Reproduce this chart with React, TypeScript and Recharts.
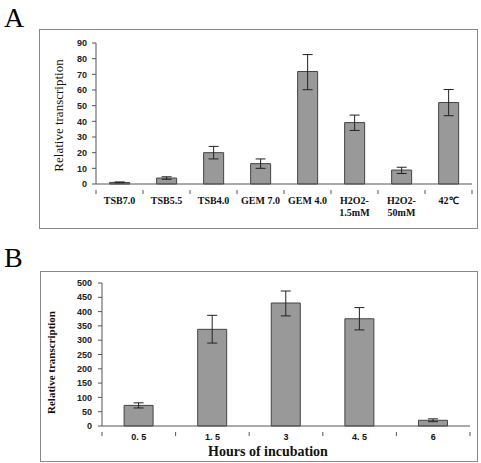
import { BarChart, Bar, XAxis, YAxis, ErrorBar } from "recharts";

// Panel A
const conditions = ["TSB7.0", "TSB5.5", "TSB4.0", "GEM 7.0", "GEM 4.0", "H2O2-\n1.5mM", "H2O2-\n50mM", "42℃"];
const conditionValues = [1, 3.8, 20, 13, 71.8, 39.2, 8.9, 52];
const conditionErrLow = [0.3, 0.8, 4, 3, 11.6, 5, 2.2, 8.4];
const conditionErrHigh = [0.3, 0.8, 4, 3, 10.8, 4.8, 1.8, 8.3];
const ticksA = [0, 10, 20, 30, 40, 50, 60, 70, 80, 90];

// Panel B
const hours = ["0. 5", "1. 5", "3", "4. 5", "6"];
const hourValues = [72, 338, 430, 375, 20];
const hourErrLow = [9, 48, 45, 39, 5];
const hourErrHigh = [9, 49, 42, 39, 5];
const ticksB = [0, 50, 100, 150, 200, 250, 300, 350, 400, 450, 500];

const dataA = conditions.map((c, i) => ({
  name: c,
  value: conditionValues[i],
  err: [conditionErrLow[i], conditionErrHigh[i]],
}));
const dataB = hours.map((h, i) => ({
  name: h,
  value: hourValues[i],
  err: [hourErrLow[i], hourErrHigh[i]],
}));

const AXIS = "#555";
const SANS = "'Liberation Sans', Arial, sans-serif";
const SERIF = "'Liberation Serif', 'Times New Roman', serif";

function boundaryTick(band: number, dy: number, font: string, size: number) {
  return (props: any) => {
    const { x, y, payload, index } = props;
    const parts = String(payload.value).split("\n");
    return (
      <g>
        {index === 0 && <line x1={x - band / 2} x2={x - band / 2} y1={y - 2} y2={y + 2} stroke={AXIS} />}
        <line x1={x + band / 2} x2={x + band / 2} y1={y - 2} y2={y + 2} stroke={AXIS} />
        <text x={x} y={y + dy} textAnchor="middle" fontFamily={font} fontWeight="bold" fontSize={size} fill="#111">
          {parts.map((p, i) => (
            <tspan key={i} x={x} dy={i === 0 ? 0 : 12}>{p}</tspan>
          ))}
        </text>
      </g>
    );
  };
}

export default function App() {
  return (
    <div style={{ position: "absolute", left: 0, top: 0, width: 481, height: 463, background: "#fff" }}>
      <div style={{ position: "absolute", left: 4, top: 2, fontFamily: SERIF, fontSize: 28 }}>A</div>
      <div style={{ position: "absolute", left: 39, top: 29, width: 437, height: 198, border: "1px solid #888" }} />
      <div style={{ position: "absolute", left: 0, top: 0 }}>
        <BarChart width={481} height={240} data={dataA} margin={{ top: 43, right: 9, left: 50, bottom: 26 }} barCategoryGap="29%">
          <XAxis dataKey="name" stroke={AXIS} tickLine={false} height={30} interval={0}
            tick={boundaryTick(47, 12, SERIF, 10)} />
          <YAxis domain={[0, 90]} ticks={ticksA} interval={0} width={46} stroke={AXIS} tickSize={4} tickMargin={5}
            tick={{ fontFamily: SANS, fontWeight: "bold", fontSize: 9, fill: "#222" }}
            label={(p: any) => {
              const vb = p.viewBox;
              const cx = vb.x + 8;
              const cy = vb.y + vb.height / 2 + 2;
              return (
                <text x={cx} y={cy} transform={`rotate(-90 ${cx} ${cy})`} textAnchor="middle" dominantBaseline="central"
                  fontFamily={SERIF} fontSize={13} fill="#111">Relative transcription</text>
              );
            }} />
          <Bar dataKey="value" fill="#999" stroke="#444" strokeWidth={1} isAnimationActive={false}>
            <ErrorBar dataKey="err" width={5} stroke="#222" strokeWidth={1} />
          </Bar>
        </BarChart>
      </div>

      <div style={{ position: "absolute", left: 4, top: 242, fontFamily: SERIF, fontSize: 28 }}>B</div>
      <div style={{ position: "absolute", left: 40, top: 271, width: 436, height: 189, border: "1px solid #888" }} />
      <div style={{ position: "absolute", left: 0, top: 240 }}>
        <BarChart width={481} height={223} data={dataB} margin={{ top: 43, right: 11, left: 56, bottom: 7 }} barCategoryGap="30%">
          <XAxis dataKey="name" stroke={AXIS} tickLine={false} height={30} interval={0}
            tick={boundaryTick(73.6, 6, SANS, 9)}
            label={(p: any) => {
              const vb = p.viewBox;
              return (
                <text x={vb.x + vb.width / 2 - 18} y={vb.y + 30} textAnchor="middle" fontFamily={SERIF} fontWeight="bold" fontSize={14} fill="#111">
                  Hours of incubation
                </text>
              );
            }} />
          <YAxis domain={[0, 500]} ticks={ticksB} interval={0} width={46} stroke={AXIS} tickSize={4} tickMargin={6}
            tick={{ fontFamily: SANS, fontWeight: "bold", fontSize: 9, fill: "#222" }}
            label={(p: any) => {
              const vb = p.viewBox;
              const cx = vb.x - 5;
              const cy = vb.y + vb.height / 2 + 8;
              return (
                <text x={cx} y={cy} transform={`rotate(-90 ${cx} ${cy})`} textAnchor="middle" dominantBaseline="central"
                  fontFamily={SERIF} fontWeight="bold" fontSize={11} fill="#111">Relative transcription</text>
              );
            }} />
          <Bar dataKey="value" fill="#999" stroke="#444" strokeWidth={1} isAnimationActive={false}>
            <ErrorBar dataKey="err" width={5} stroke="#222" strokeWidth={1} />
          </Bar>
        </BarChart>
      </div>
    </div>
  );
}
